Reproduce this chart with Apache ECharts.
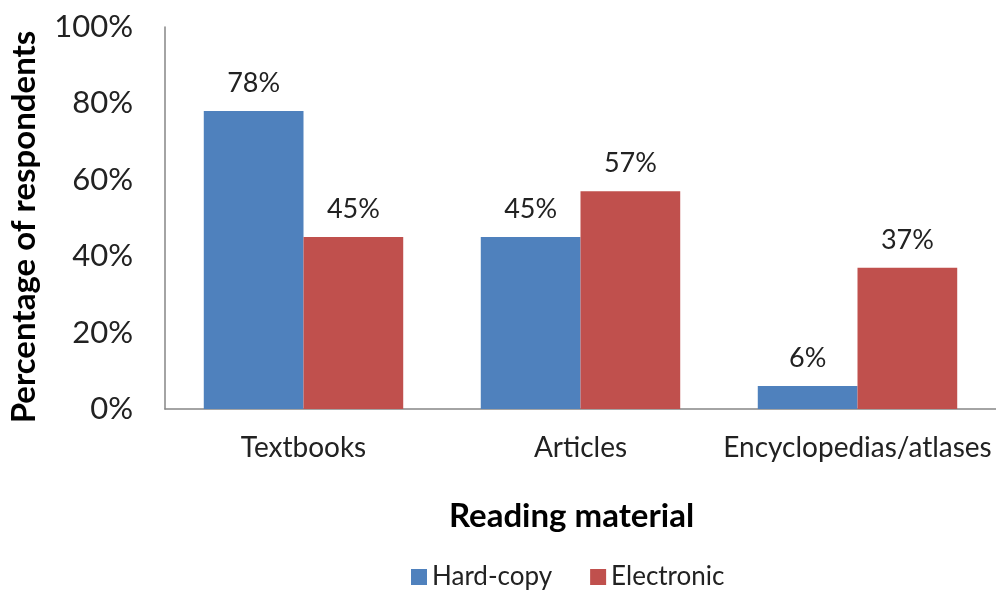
<!DOCTYPE html>
<html>
<head>
<meta charset="utf-8">
<script src="https://cdn.jsdelivr.net/npm/echarts@6/dist/echarts.min.js"></script>
<style>html,body{margin:0;padding:0;background:#fff}#c{width:996px;height:590px}</style>
</head>
<body>
<div id="c"></div>
<script>
var categories = ['Textbooks', 'Articles', 'Encyclopedias/atlases'];
var hardCopy = [78, 45, 6];
var electronic = [45, 57, 37];
var seriesNames = ['Hard-copy', 'Electronic'];
var yTicks = [0, 20, 40, 60, 80, 100];

var FONT = 'Lato';
var chart = echarts.init(document.getElementById('c'), null, {renderer: 'canvas'});
var labelStyle = {
  show: true, position: 'top', distance: 14,
  fontFamily: FONT, fontSize: 27, color: '#222',
  formatter: function (p) { return p.value + '%'; }
};
chart.setOption({
  animation: false,
  backgroundColor: '#fff',
  grid: {left: 165, right: 0, top: 27, bottom: 181, containLabel: false, outerBoundsMode: 'none'},
  legend: {
    data: seriesNames, left: 406, top: 559,
    itemWidth: 16, itemHeight: 16, itemGap: 38, icon: 'rect',
    textStyle: {fontFamily: FONT, fontSize: 26, color: '#222', padding: [0, 0, 0, 0]}
  },
  xAxis: {
    type: 'category', data: categories,
    name: 'Reading material', nameLocation: 'middle', nameGap: 91,
    nameTextStyle: {fontFamily: FONT, fontSize: 33, fontWeight: 'bold', color: '#000', padding: [0, 18, 0, 0]},
    axisLine: {lineStyle: {color: '#868686', width: 1.5}},
    axisTick: {show: false},
    axisLabel: {fontFamily: FONT, fontSize: 28, color: '#222', margin: 25, interval: 0}
  },
  yAxis: {
    type: 'value', min: yTicks[0], max: yTicks[yTicks.length - 1], interval: 20,
    name: 'Percentage of respondents', nameLocation: 'middle', nameGap: 124,
    nameTextStyle: {fontFamily: FONT, fontSize: 33, fontWeight: 'bold', color: '#000', padding: [0, 18, 0, 0]},
    axisLine: {show: true, lineStyle: {color: '#868686', width: 1.5}},
    axisTick: {show: false},
    splitLine: {show: false},
    axisLabel: {fontFamily: FONT, fontSize: 31, color: '#222', margin: 32, formatter: '{value}%'}
  },
  series: [
    {name: seriesNames[0], type: 'bar', data: hardCopy, barGap: '0%', barCategoryGap: '28%',
     itemStyle: {color: '#4F81BD'}, label: labelStyle},
    {name: seriesNames[1], type: 'bar', data: electronic, barGap: '0%', barCategoryGap: '28%',
     itemStyle: {color: '#C0504D'}, label: labelStyle}
  ]
});
</script>
</body>
</html>
